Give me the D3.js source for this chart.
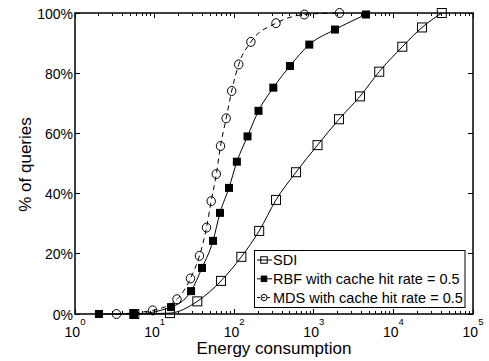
<html>
<head>
<meta charset="UTF-8"/>
<script src="https://d3js.org/d3.v7.min.js"></script>
<style>
body { margin:0; background:#fff; }
text { font-family: "Liberation Sans", Arial, sans-serif; fill:#000; }
.frame { fill:none; stroke:#000; stroke-width:1.5; }
.tick { stroke:#000; stroke-width:1; shape-rendering:crispEdges; }
.curve { fill:none; stroke:#000; stroke-width:1; }
</style>
</head>
<body>
<svg id="chart" width="489" height="361"></svg>
<script>
'use strict';

// energy consumption (x) and % of queries (y)
var sdiX = [5.56, 15.6, 34.4, 68.3, 123, 206, 335, 598, 1113, 2073, 3802, 6637, 12940, 22870, 40560];
var sdiY = [0, 0.3, 4.2, 11, 19, 27.6, 37.9, 47.1, 56.1, 64.7, 72.3, 80.5, 88.8, 95.2, 100];

var rbfX = [2.0, 5.5, 16.1, 28.7, 39.4, 54.2, 66.3, 86, 108, 147, 202, 310, 502, 878, 1846, 4528];
var rbfY = [0, 0, 2.3, 7.6, 15.3, 24.3, 33.6, 41.9, 50.6, 59, 67.5, 75.2, 82.4, 89.5, 94.5, 99.5];

var mdsX = [3.32, 9.46, 19.1, 28.2, 36.6, 44.9, 51.4, 59.6, 67.3, 79.3, 93, 114, 162, 335, 760, 2104];
var mdsY = [0, 1.2, 4.9, 11.8, 19.3, 28.7, 37.5, 46.5, 55.8, 65, 74.1, 82.9, 90.4, 96.6, 99.5, 100];

var seriesNames = ['SDI', 'RBF with cache hit rate = 0.5', 'MDS with cache hit rate = 0.5'];
var xTickExp = [0, 1, 2, 3, 4, 5];
var yTicks = [0, 20, 40, 60, 80, 100];

var svg = d3.select('#chart');
var mLeft = 75, mRight = 473, mTop = 13, mBottom = 314;

var sx = d3.scaleLog().domain([1, 1e5]).range([mLeft, mRight]);
var sy = d3.scaleLinear().domain([0, 100]).range([mBottom, mTop]);

function zip(xs, ys){
	return xs.map(function(x, i){ return [x, ys[i]]; });
}

var series = [
	{name: seriesNames[0], pts: zip(sdiX, sdiY), marker: 'osquare', dash: null},
	{name: seriesNames[1], pts: zip(rbfX, rbfY), marker: 'fsquare', dash: null},
	{name: seriesNames[2], pts: zip(mdsX, mdsY), marker: 'circle', dash: '5,4'}
];

// ticks: minor log ticks on bottom and top, y ticks on both sides
var minor = [];
xTickExp.slice(0, -1).forEach(function(e){
	for (var k = 2; k <= 9; k++) minor.push(k * Math.pow(10, e));
});
var majors = xTickExp.map(function(e){ return Math.pow(10, e); });

var tg = svg.append('g');
minor.forEach(function(v){
	tg.append('line').attr('class', 'tick')
		.attr('x1', sx(v)).attr('x2', sx(v)).attr('y1', mBottom).attr('y2', mBottom - 3);
	tg.append('line').attr('class', 'tick')
		.attr('x1', sx(v)).attr('x2', sx(v)).attr('y1', mTop).attr('y2', mTop + 3);
});
majors.forEach(function(v){
	tg.append('line').attr('class', 'tick')
		.attr('x1', sx(v)).attr('x2', sx(v)).attr('y1', mBottom).attr('y2', mBottom - 5);
	tg.append('line').attr('class', 'tick')
		.attr('x1', sx(v)).attr('x2', sx(v)).attr('y1', mTop).attr('y2', mTop + 5);
});
yTicks.forEach(function(v){
	tg.append('line').attr('class', 'tick')
		.attr('x1', mLeft).attr('x2', mLeft + 5).attr('y1', sy(v)).attr('y2', sy(v));
	tg.append('line').attr('class', 'tick')
		.attr('x1', mRight).attr('x2', mRight - 5).attr('y1', sy(v)).attr('y2', sy(v));
});

// tick labels
svg.selectAll('.ylab').data(yTicks).enter()
	.append('text')
	.attr('class', 'ylab')
	.attr('x', mLeft - 2)
	.attr('y', function(d){ return sy(d) + 5.5; })
	.attr('text-anchor', 'end')
	.attr('font-size', 14)
	.text(function(d){ return d + '%'; });

var xl = svg.selectAll('.xlab').data(xTickExp).enter()
	.append('text')
	.attr('class', 'xlab')
	.attr('x', function(d){ return sx(Math.pow(10, d)); })
	.attr('y', 337)
	.attr('text-anchor', 'middle')
	.attr('font-size', 14);
xl.append('tspan').text('10');
xl.append('tspan').attr('dy', -12).attr('font-size', 9.5).text(function(d){ return d; });

svg.append('text')
	.attr('x', (mLeft + mRight) / 2)
	.attr('y', 353.5)
	.attr('text-anchor', 'middle')
	.attr('font-size', 17)
	.text('Energy consumption');

svg.append('text')
	.attr('transform', 'translate(31,' + ((mTop + mBottom) / 2 + 1) + ') rotate(-90)')
	.attr('text-anchor', 'middle')
	.attr('font-size', 17)
	.text('% of queries');

// curves
var line = d3.line()
	.x(function(d){ return sx(d[0]); })
	.y(function(d){ return sy(d[1]); })
	.curve(d3.curveMonotoneX);

// open markers are hollow, so the line shows through them
function drawMarker(g, type, x, y, sz){
	var h = sz / 2;
	if (type === 'fsquare')
		g.append('rect').attr('x', x - h).attr('y', y - h).attr('width', sz).attr('height', sz)
			.attr('fill', '#000');
	else if (type === 'osquare')
		g.append('rect').attr('x', x - h).attr('y', y - h).attr('width', sz).attr('height', sz)
			.attr('fill', 'none').attr('stroke', '#000').attr('stroke-width', 1);
	else
		g.append('ellipse').attr('cx', x).attr('cy', y).attr('rx', h - 0.3).attr('ry', h)
			.attr('fill', 'none').attr('stroke', '#000').attr('stroke-width', 1);
}

series.forEach(function(s){
	svg.append('path').attr('class', 'curve')
		.attr('d', line(s.pts))
		.attr('stroke-dasharray', s.dash);
});
series.forEach(function(s){
	var g = svg.append('g');
	var sz = s.marker === 'fsquare' ? 8 : 9;
	s.pts.forEach(function(p){ drawMarker(g, s.marker, sx(p[0]), sy(p[1]), sz); });
});

svg.append('rect').attr('class', 'frame')
	.attr('x', mLeft).attr('y', mTop).attr('width', mRight - mLeft).attr('height', mBottom - mTop);

// legend
var lg = svg.append('g');
lg.append('rect').attr('x', 254.5).attr('y', 250.5).attr('width', 210.5).attr('height', 57)
	.attr('fill', '#fff').attr('stroke', '#000').attr('stroke-width', 1);
series.forEach(function(s, i){
	var y = 260 + i * 18.8;
	lg.append('line').attr('x1', 257).attr('x2', 272).attr('y1', y).attr('y2', y)
		.attr('stroke', '#000').attr('stroke-dasharray', s.dash ? '3,2' : null);
	drawMarker(lg, s.marker, 264, y, 6.5);
	lg.append('text').attr('x', 273).attr('y', y + 5.3).attr('font-size', 14.5).text(s.name);
});
</script>
</body>
</html>
